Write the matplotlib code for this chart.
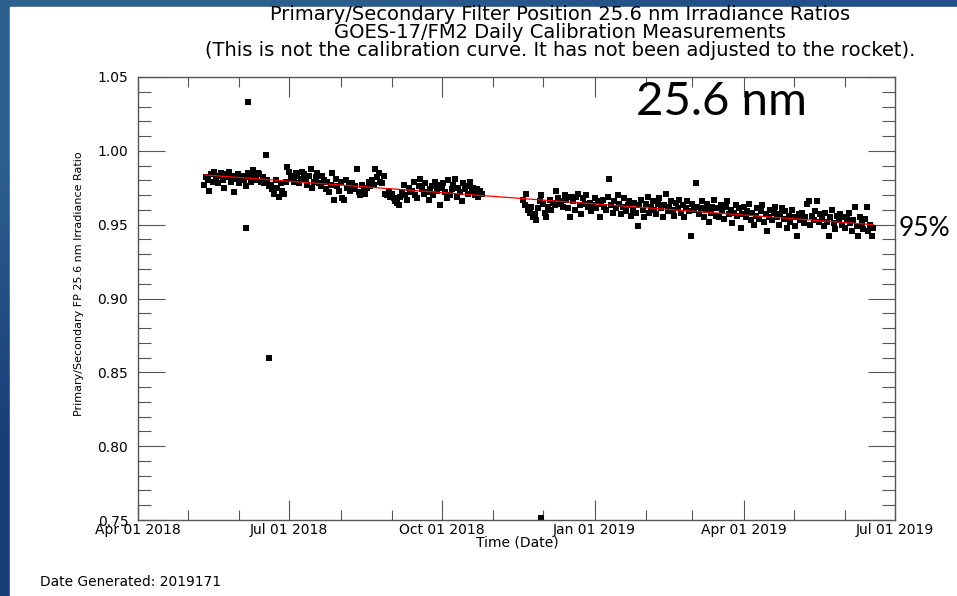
import numpy as np
import pandas as pd
import matplotlib
matplotlib.use("Agg")
import matplotlib.pyplot as plt
import matplotlib.dates as mdates
from matplotlib.ticker import MultipleLocator, FormatStrFormatter
from matplotlib.patches import Rectangle

# Daily ratio readings (thousandths), first block starts 2018-05-11
seg1_start = "2018-05-11"
seg1_milli = [
    977, 982, 980, 973, 984, 979, 986, 981, 978, 983,
    985, 980, 975, 984, 982, 986, 979, 983, 972, 981,
    984, 978, 982, 983, 980, 976, 985, 982, 979, 987,
    983, 980, 985, 984, 979, 982, 978, 997, 980, 976,
    977, 974, 971, 980, 975, 969, 978, 973, 971, 979,
    989, 986, 983, 981, 979, 985, 983, 978, 981, 986,
    984, 980, 977, 983, 988, 975, 979, 982, 985, 978,
    976, 983, 980, 974, 979, 972, 977, 985, 967, 981,
    976, 973, 979, 968, 967, 980, 975, 977, 973, 978,
    974, 976, 988, 972, 970, 977, 974, 971, 975, 979,
    976, 980, 977, 988, 982, 985, 979, 978, 983, 971,
    970, 972, 969, 971, 968, 966, 965, 963, 969, 972,
    977, 970, 967, 975, 972, 973, 979, 970, 968, 976,
    981, 974, 971, 978, 972, 967, 974, 976, 970, 979,
    973, 977, 963, 975, 978, 972, 968, 980, 970, 974,
    977, 981, 969, 975, 972, 966, 978, 974, 976, 971,
    979, 972, 975, 970, 974, 969, 973, 971,
]

# Second block starts 2018-11-19
seg2_start = "2018-11-19"
seg2_milli = [
    967, 963, 971, 960, 958, 962, 955, 957, 953, 961,
    966, 970, 964, 958, 955, 962, 967, 960, 965, 963,
    973, 968, 964, 966, 962, 970, 967, 961, 955, 969,
    966, 960, 969, 971, 963, 957, 968, 964, 970, 962,
    965, 959, 963, 968, 961, 966, 955, 964, 967, 962,
    960, 969, 981, 963, 958, 966, 961, 970, 964, 957,
    962, 968, 959, 963, 966, 956, 960, 965, 958, 949,
    963, 967, 960, 955, 964, 969, 958, 962, 966, 960,
    957, 964, 968, 961, 955, 963, 971, 959, 962, 966,
    960, 956, 965, 961, 967, 958, 963, 955, 961, 966,
    959, 942, 964, 960, 978, 962, 957, 961, 966, 955,
    960, 964, 952, 958, 962, 967, 956, 961, 955, 963,
    959, 954, 962, 966, 957, 960, 951, 958, 963, 956,
    961, 948, 957, 962, 955, 959, 964, 953, 958, 950,
    956, 961, 954, 959, 963, 952, 957, 946, 955, 960,
    953, 958, 962, 955, 950, 957, 961, 954, 959, 948,
    956, 952, 960, 955, 949, 942, 957, 953, 958, 951,
    955, 964, 966, 950, 956, 953, 959, 966, 952, 957,
    954, 949, 958, 952, 942, 955, 960, 951, 947, 956,
    953, 957, 950, 955, 948, 954, 958, 951, 946, 953,
    962, 949, 942, 955, 951, 947, 954, 962, 946, 950, 942, 948,
]

# Isolated readings
outlier_dates = ["2018-06-05", "2018-06-06", "2018-06-19", "2018-11-30"]
outlier_vals = [0.948, 1.033, 0.860, 0.7515]

# Trend line end points
trend_dates = ["2018-05-11", "2019-06-18"]
trend_vals = [0.9837, 0.9500]

x_min, x_max = "2018-04-01", "2019-07-01"

seg1_dates = pd.date_range(seg1_start, periods=len(seg1_milli), freq="D")
seg2_dates = pd.date_range(seg2_start, periods=len(seg2_milli), freq="D")
seg1_vals = np.array(seg1_milli) / 1000.0
seg2_vals = np.array(seg2_milli) / 1000.0

W, H = 957, 596
fig = plt.figure(figsize=(W / 100, H / 100), dpi=100)

# blue slide frame + white page
bg = fig.add_axes([0, 0, 1, 1], zorder=-10)
grad = np.array([[[0.18, 0.38, 0.56], [0.13, 0.31, 0.53]],
                 [[0.10, 0.24, 0.47], [0.10, 0.22, 0.46]]])
bg.imshow(grad, extent=[0, 1, 0, 1], aspect="auto", interpolation="bilinear")
bg.add_patch(Rectangle((10 / W, 0), 1 - 10 / W, 1 - 7 / H, color="white"))
bg.set_xlim(0, 1)
bg.set_ylim(0, 1)
bg.axis("off")

ax = fig.add_axes([138 / W, 1 - 520 / H, (895 - 138) / W, (520 - 77) / H])
ax.set_facecolor("white")

ax.plot(seg1_dates, seg1_vals, "s", color="black", ms=5, mew=0)
ax.plot(seg2_dates, seg2_vals, "s", color="black", ms=5, mew=0)
ax.plot(pd.to_datetime(outlier_dates), outlier_vals, "s", color="black",
        ms=5, mew=0, clip_on=False)
ax.plot(pd.to_datetime(trend_dates), trend_vals, color="red", lw=0.9)

ax.set_xlim(pd.Timestamp(x_min), pd.Timestamp(x_max))
ax.set_ylim(0.75, 1.05)

ax.xaxis.set_major_locator(mdates.MonthLocator(bymonth=[1, 4, 7, 10]))
ax.xaxis.set_minor_locator(mdates.MonthLocator())
ax.xaxis.set_major_formatter(mdates.DateFormatter("%b %d %Y"))
ax.yaxis.set_major_locator(MultipleLocator(0.05))
ax.yaxis.set_minor_locator(MultipleLocator(0.01))
ax.yaxis.set_major_formatter(FormatStrFormatter("%.2f"))

axis_col = "#555555"
for s in ax.spines.values():
    s.set_color(axis_col)
    s.set_linewidth(1.0)
ax.tick_params(axis="x", which="major", direction="in", length=14.4, width=0.8,
               color=axis_col, top=True, bottom=True, pad=2, labelsize=10)
ax.tick_params(axis="x", which="minor", direction="in", length=7.2, width=0.8,
               color=axis_col, top=True, bottom=True)
ax.tick_params(axis="y", which="major", direction="in", length=19.4, width=0.8,
               color=axis_col, left=True, right=True, pad=7, labelsize=10)
ax.tick_params(axis="y", which="minor", direction="in", length=9.4, width=0.8,
               color=axis_col, left=True, right=True)

idl_font = "DejaVu Sans"
for lbl in ax.get_xticklabels() + ax.get_yticklabels():
    lbl.set_fontfamily(idl_font)

title_lines = [
    "Primary/Secondary Filter Position 25.6 nm Irradiance Ratios",
    "GOES-17/FM2 Daily Calibration Measurements",
    "(This is not the calibration curve. It has not been adjusted to the rocket).",
]
for i, line in enumerate(title_lines):
    fig.text(560 / W, 1 - (15 + 17.5 * i) / H, line, ha="center", va="center",
             fontsize=14, family=idl_font)

fig.text(517 / W, 1 - 542 / H, "Time (Date)", ha="center", va="center",
         fontsize=10, family=idl_font)
fig.text(79 / W, 1 - 284 / H, "Primary/Secondary FP 25.6 nm Irradiance Ratio",
         rotation=90, ha="center", va="center", fontsize=8, family=idl_font)
fig.text(40 / W, 1 - 582 / H, "Date Generated: 2019171", ha="left", va="center",
         fontsize=9.9, family=idl_font)

# slide overlays
fig.text(722 / W, 1 - 102 / H, "25.6 nm", ha="center", va="center",
         fontsize=34, family="Lato")
fig.text(899 / W, 1 - 229 / H, "95%", ha="left", va="center",
         fontsize=19, family="Lato")

fig.savefig("out.png", dpi=100)
